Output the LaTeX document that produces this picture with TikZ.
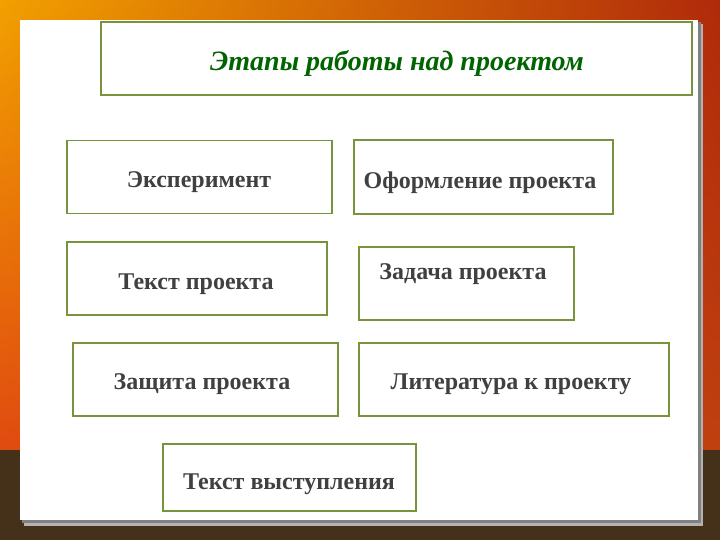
\documentclass[tikz,border=0pt]{standalone}
\usepackage{xcolor}
\usepackage{fontspec}
\setmainfont{Liberation Serif}
\usepackage{tikz}
\usetikzlibrary{shadings}

\definecolor{olive}{HTML}{77933C}
\definecolor{textgray}{HTML}{404040}
\definecolor{titlegreen}{HTML}{006400}
\definecolor{skyleft}{HTML}{F2A000}
\definecolor{skyright}{HTML}{B02A0A}
\definecolor{lowleft}{HTML}{E04A10}
\definecolor{lowright}{HTML}{C04010}
\definecolor{ground}{HTML}{45301A}

\tikzset{
  stagebox/.style={draw=olive, line width=1.5pt, fill=white, inner sep=0pt},
  stagetext/.style={font=\bfseries\fontsize{24}{28}\selectfont, text=textgray}
}

\begin{document}
\begin{tikzpicture}[x=1pt,y=-1pt]
        \useasboundingbox (0,0) rectangle (720,540);
        % background
        \shade[upper left=skyleft, upper right=skyright, lower left=lowleft, lower right=lowright] (0,0) rectangle (720,452);
        \fill[ground] (0,450) rectangle (720,540);
        % panel
        \fill[black!30] (24,24) rectangle (703,526);
        \fill[black!50] (22,22) rectangle (701,523);
        \fill[white] (20,20) rectangle (698,520);

        \node [stagebox, minimum width=591pt, minimum height=73pt] (title) at (396.5,58.5) {};
        \node [font=\bfseries\itshape\fontsize{28}{32}\selectfont, text=titlegreen] (titletext) at (397,63) {Этапы работы над проектом};

        \node [stagebox, minimum width=265pt, minimum height=73pt] (exp) at (199.5,177) {};
        \node [stagetext] (exptext) at (199,182) {Эксперимент};
        \node [stagebox, minimum width=259pt, minimum height=74pt] (design) at (483.5,177) {};
        \node [stagetext] (designtext) at (480,182.5) {Оформление проекта};
        \node [stagebox, minimum width=260pt, minimum height=73pt] (text) at (197,278.5) {};
        \node [stagetext] (texttext) at (196,284) {Текст проекта};
        \node [stagebox, minimum width=215pt, minimum height=73pt] (task) at (466.5,283.5) {};
        \node [stagetext] (tasktext) at (463,274) {Задача проекта};
        \node [stagebox, minimum width=265pt, minimum height=73pt] (defence) at (205.5,379.5) {};
        \node [stagetext] (defencetext) at (202,384) {Защита проекта};
        \node [stagebox, minimum width=310pt, minimum height=73pt] (lit) at (514,379.5) {};
        \node [stagetext] (littext) at (511,384) {Литература к проекту};
        \node [stagebox, minimum width=253pt, minimum height=67pt] (speech) at (289.5,477.5) {};
        \node [stagetext] (speechtext) at (289,484) {Текст выступления};
    \end{tikzpicture}
\end{document}
